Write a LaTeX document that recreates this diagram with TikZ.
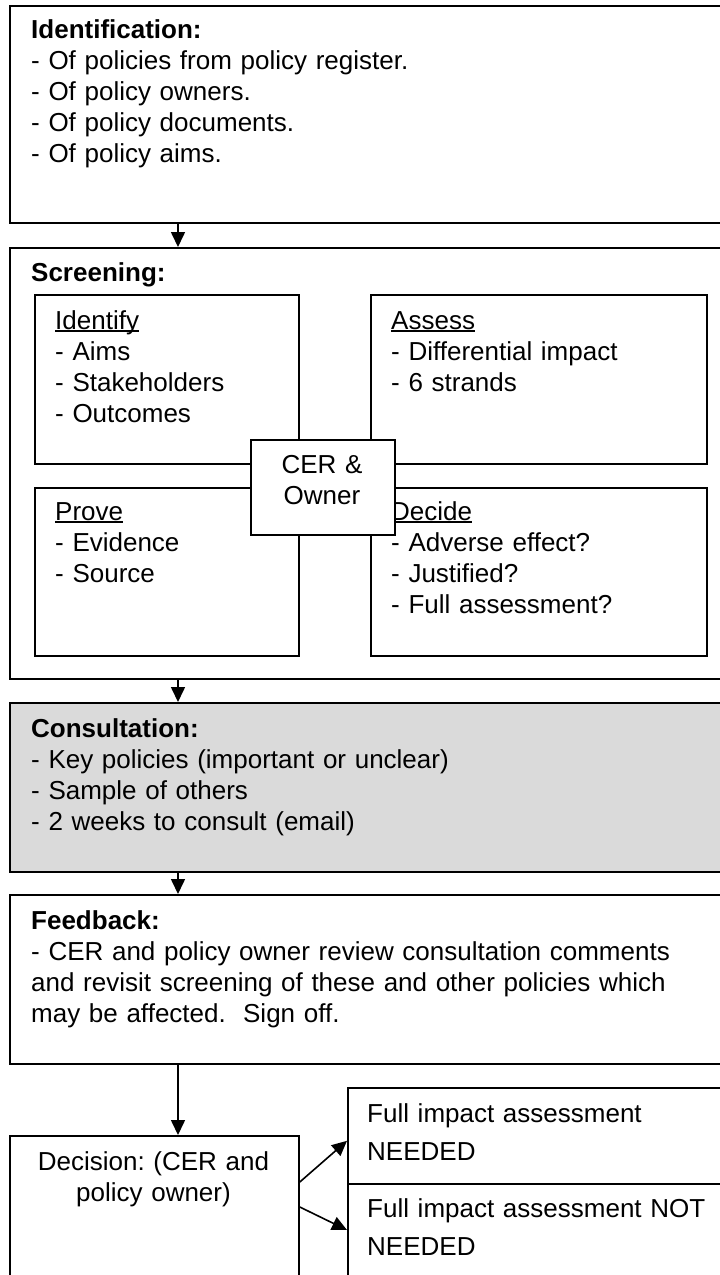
\documentclass[tikz,border=0pt]{standalone}
\usepackage{fontspec}
\setmainfont{Liberation Sans}
\usetikzlibrary{arrows.meta,calc}
\definecolor{consgray}{RGB}{218,218,218}
\frenchspacing
\newcommand{\boxfont}{\fontsize{26pt}{31pt}\selectfont}
% underline placed like a word processor does it
\newcommand{\wordul}[1]{\setbox0\hbox{#1}\rlap{\rule[-2.8pt]{\wd0}{1.7pt}}\box0}

\begin{document}
\begin{tikzpicture}[x=1pt,y=-1pt,
    outer/.style={draw,line width=1.8pt,anchor=north west,inner sep=0pt,minimum width=721pt},
    inner/.style={draw,line width=1.8pt,anchor=north west,inner sep=0pt},
    txt/.style={anchor=base west,inner sep=0pt,text width=#1,align=left,font=\boxfont},
    txt/.default=680pt,
    ctxt/.style={anchor=base,inner sep=0pt,text width=#1,align=center,font=\boxfont},
    arr/.style={line width=1.6pt,-{Triangle[length=15pt,width=14pt]}}]
    \clip (0,0) rectangle (720,1275);
    % identification
    \node[outer,minimum height=217pt] (ident) at (9,5) {};
    \node[txt] (identtext) at (31,38) {\textbf{Identification:}\\- Of policies from policy register.\\- Of policy owners.\\- Of policy documents.\\- Of policy aims.};
    % screening with its four boxes
    \node[outer,minimum height=431pt] (screen) at (9,247) {};
    \node[txt] (screentext) at (31,281) {\textbf{Screening:}};
    \node[inner,minimum width=264pt,minimum height=169pt] (identify) at (34,294) {};
    \node[inner,minimum width=336pt,minimum height=169pt] (assess) at (370,294) {};
    \node[inner,minimum width=264pt,minimum height=168pt] (prove) at (34,487) {};
    \node[inner,minimum width=336pt,minimum height=168pt] (decide) at (370,487) {};
    \node[txt=240pt] (identifytext) at (55,329) {\wordul{Identify}\\- Aims\\- Stakeholders\\- Outcomes};
    \node[txt=310pt] (assesstext) at (391,329) {\wordul{Assess}\\- Differential impact\\- 6 strands};
    \node[txt=240pt] (provetext) at (55,520) {\wordul{Prove}\\- Evidence\\- Source};
    \node[txt=310pt] (decidetext) at (391,520) {\wordul{Decide}\\- Adverse effect?\\- Justified?\\- Full assessment?};
    \node[inner,fill=white,minimum width=144pt,minimum height=95pt] (cer) at (250,439) {};
    \node[ctxt=140pt] (certext) at (322,473) {CER \&\\Owner};
    % consultation
    \node[outer,fill=consgray,minimum height=169pt] (consult) at (9,702) {};
    \node[txt] (consulttext) at (31,737) {\textbf{Consultation:}\\- Key policies (important or unclear)\\- Sample of others\\- 2 weeks to consult (email)};
    % feedback
    \node[outer,minimum height=169pt] (feedback) at (9,894) {};
    \node[txt] (feedbacktext) at (31,929) {\textbf{Feedback:}\\- CER and policy owner review consultation comments\\and revisit screening of these and other policies which\\may be affected.\ \ Sign off.};
    % decision and outcomes
    \node[inner,minimum width=289pt,minimum height=160pt] (decision) at (9,1135) {};
    \node[ctxt=280pt] (decisiontext) at (153.5,1170) {Decision: (CER and\\policy owner)};
    \node[inner,minimum width=380pt,minimum height=96pt] (needed) at (347,1087) {};
    \node[inner,minimum width=380pt,minimum height=120pt] (notneeded) at (347,1183) {};
    \node[txt=350pt,font=\fontsize{26pt}{38pt}\selectfont] (neededtext) at (367,1122) {Full impact assessment\\NEEDED};
    \node[txt=350pt,font=\fontsize{26pt}{38pt}\selectfont] (notneededtext) at (367,1217) {Full impact assessment NOT\\NEEDED};
    % connectors
    \coordinate (spine) at (178,0);
    \draw[arr] (ident.south -| spine) -- (screen.north -| spine);
    \draw[arr] (screen.south -| spine) -- (consult.north -| spine);
    \draw[arr] (consult.south -| spine) -- (feedback.north -| spine);
    \draw[arr] (feedback.south -| spine) -- (decision.north -| spine);
    \draw[arr] ($(decision.north east)+(0,47)$) -- ($(needed.south west)+(0,-44)$);
    \draw[arr] ($(decision.north east)+(0,72)$) -- ($(notneeded.north west)+(0,47)$);
\end{tikzpicture}
\end{document}
